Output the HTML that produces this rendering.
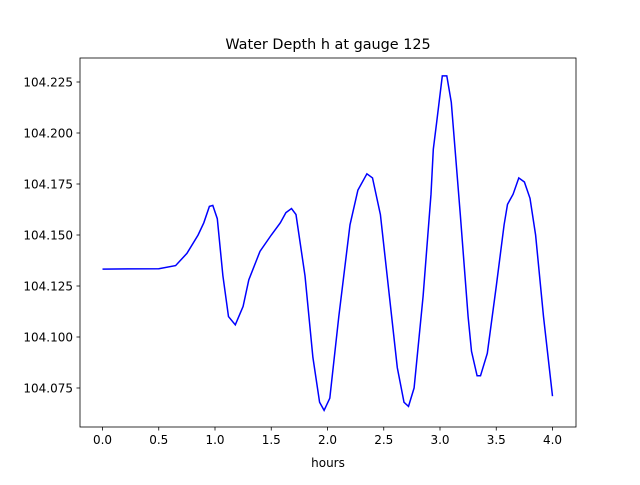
<!DOCTYPE html>
<html><head><meta charset="utf-8"><style>
body{margin:0;background:#fff;}
svg text{font-family:"DejaVu Sans","Liberation Sans",sans-serif;fill:#000;}
</style></head><body>
<svg id="c" width="640" height="480" xmlns="http://www.w3.org/2000/svg">
<rect width="640" height="480" fill="#fff"/>
<text x="328" y="49" font-size="14.4" text-anchor="middle">Water Depth h at gauge 125</text>
<text x="328" y="467" font-size="12" text-anchor="middle">hours</text>
<g id="ticks"></g>
<path id="line" fill="none" stroke="#0000ff" stroke-width="1.5"/>
<rect x="80" y="58" width="496" height="369" fill="none" stroke="#000" stroke-width="0.8"/>
</svg>
<script>
const times=[0,0.5,0.65,0.75,0.85,0.9,0.95,0.98,1.02,1.07,1.12,1.18,1.25,1.3,1.4,1.5,1.58,1.63,1.68,1.72,1.8,1.87,1.93,1.97,2.02,2.1,2.2,2.27,2.35,2.4,2.47,2.55,2.62,2.68,2.72,2.77,2.85,2.92,2.94,2.97,3.02,3.06,3.1,3.18,3.25,3.28,3.33,3.36,3.42,3.5,3.57,3.6,3.65,3.7,3.75,3.8,3.85,3.92,4.0];
const depths=[104.1333,104.1335,104.135,104.141,104.150,104.156,104.164,104.1645,104.158,104.130,104.110,104.106,104.115,104.128,104.142,104.150,104.156,104.161,104.163,104.160,104.130,104.090,104.068,104.064,104.070,104.110,104.155,104.172,104.180,104.178,104.160,104.120,104.085,104.068,104.066,104.075,104.120,104.170,104.192,104.205,104.228,104.228,104.215,104.160,104.110,104.093,104.081,104.081,104.092,104.125,104.155,104.165,104.170,104.178,104.176,104.168,104.150,104.110,104.071];
const xTicks=[0,0.5,1,1.5,2,2.5,3,3.5,4];
const xTickLabels=["0.0","0.5","1.0","1.5","2.0","2.5","3.0","3.5","4.0"];
const yTicks=[104.075,104.1,104.125,104.15,104.175,104.2,104.225];
const yTickLabels=["104.075","104.100","104.125","104.150","104.175","104.200","104.225"];
const X=t=>102.5+t*112.5;
const Y=v=>388-(v-104.075)*2040;
const NS="http://www.w3.org/2000/svg";
const g=document.getElementById('ticks');
function mk(tag,attrs){const e=document.createElementNS(NS,tag);for(const k in attrs)e.setAttribute(k,attrs[k]);return e;}
xTicks.forEach((t,i)=>{
 const l=mk('line',{x1:X(t),x2:X(t),y1:427,y2:430.5,stroke:'#000','stroke-width':0.8});
 
 
 g.appendChild(l);
 const tx=mk('text',{x:X(t),y:444,'font-size':12,'text-anchor':'middle'});
 
 
 tx.textContent=xTickLabels[i];g.appendChild(tx);
});
yTicks.forEach((v,i)=>{
 const l=mk('line',{x1:76.5,x2:80,y1:Y(v),y2:Y(v),stroke:'#000','stroke-width':0.8});
 
 
 g.appendChild(l);
 const tx=mk('text',{x:73,y:Y(v)+4.5,'font-size':12,'text-anchor':'end'});
 
 
 tx.textContent=yTickLabels[i];g.appendChild(tx);
});
document.getElementById('line').setAttribute('d',times.map((t,i)=>(i?'L':'M')+X(t).toFixed(1)+' '+Y(depths[i]).toFixed(1)).join(' '));
</script>
</body></html>
